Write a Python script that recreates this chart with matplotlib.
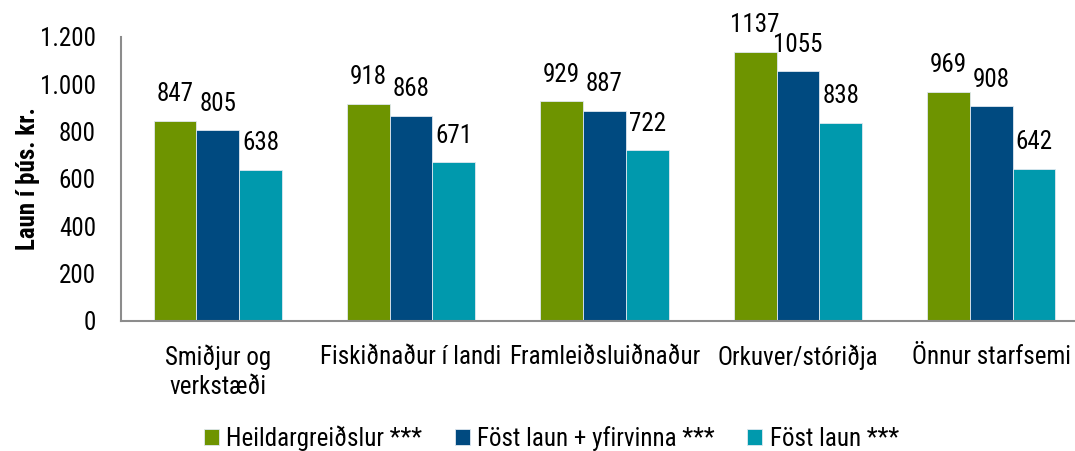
import matplotlib
matplotlib.use("Agg")
import matplotlib.pyplot as plt
import numpy as np

categories = ["Smiðjur og\nverkstæði", "Fiskiðnaður í landi", "Framleiðsluiðnaður",
              "Orkuver/stóriðja", "Önnur starfsemi"]
series_names = ["Heildargreiðslur ***", "Föst laun + yfirvinna ***", "Föst laun ***"]
heild = [847, 918, 929, 1137, 969]
fost_yfir = [805, 868, 887, 1055, 908]
fost = [638, 671, 722, 838, 642]
yticks = [0, 200, 400, 600, 800, 1000, 1200]
ytick_labels = ["0", "200", "400", "600", "800", "1.000", "1.200"]
ylabel = "Laun í þús. kr."

colors = ["#6E9400", "#004A80", "#0099AD"]

plt.rcParams['font.family'] = ['Liberation Sans Narrow', 'Roboto Condensed', 'Archivo Narrow',
                               'Liberation Sans', 'DejaVu Sans']
FS = 18

fig = plt.figure(figsize=(10.75, 4.51), dpi=100)
ax = fig.add_axes([121/1075, 1 - 321/451, 1 - 121/1075, (321 - 37)/451])

x = np.arange(len(categories))
w = 0.221
for i, (vals, c, name) in enumerate(zip([heild, fost_yfir, fost], colors, series_names)):
    bars = ax.bar(x + (i - 1) * w, vals, width=w, color=c, label=name,
                  edgecolor="#dfe8f0", linewidth=0.6)
    for b, v in zip(bars, vals):
        ax.annotate(str(v), (b.get_x() + b.get_width() / 2, v), xytext=(0, 10.5),
                    textcoords="offset points", ha="center", va="bottom", fontsize=FS)

ax.set_xlim(-0.5, 4.433)
ax.set_ylim(0, 1200)
ax.set_yticks(yticks)
ax.set_yticklabels(ytick_labels, fontsize=FS)
ax.set_xticks(x)
ax.set_xticklabels(categories, fontsize=FS, linespacing=1.25)
ax.tick_params(axis="both", length=0)
ax.tick_params(axis="y", pad=18)
ax.tick_params(axis="x", pad=17)
for s in ["top", "right"]:
    ax.spines[s].set_visible(False)
for s in ["left", "bottom"]:
    ax.spines[s].set_color("#8c8c8c")
    ax.spines[s].set_linewidth(1.5)
ax.set_ylabel(ylabel, fontsize=FS, fontweight="bold")
ax.yaxis.set_label_coords(-0.085, 0.5)

fig.legend(loc="lower center", bbox_to_anchor=(0.513, -0.05), ncol=3, frameon=False,
           fontsize=FS, handlelength=0.6, handleheight=0.6, handletextpad=0.3,
           columnspacing=1.3)

fig.savefig("out.png", dpi=100)
